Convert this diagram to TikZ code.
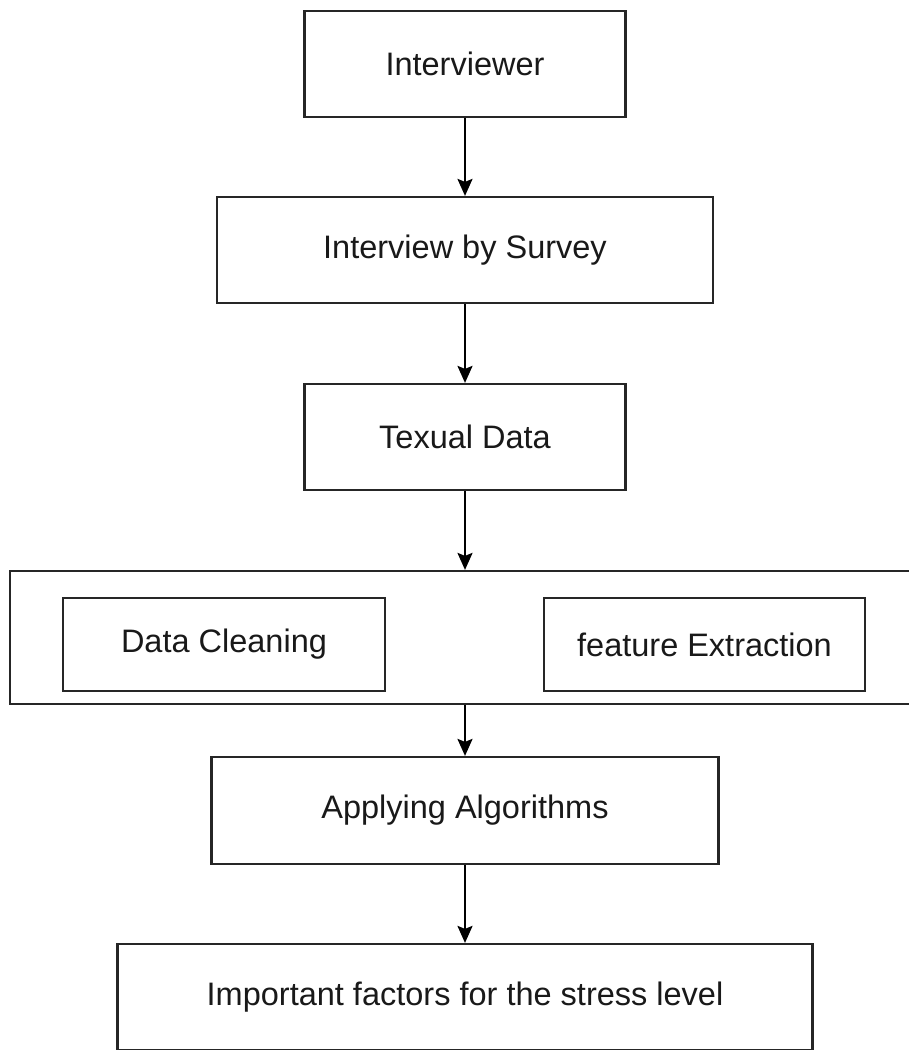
\documentclass[tikz,border=0pt]{standalone}
\usepackage{fontspec}
\setmainfont{Liberation Sans}
\usetikzlibrary{arrows.meta,positioning,calc}
\begin{document}
\begin{tikzpicture}[x=1pt,y=-1pt,
  box/.style={draw=black!85, line width=2.2pt, fill=white, inner sep=0pt,
    font=\fontsize{32.5}{38}\selectfont, text=black!90},
  arr/.style={draw=black, line width=2.2pt, -{Stealth[length=17pt,width=15pt,inset=3pt]}}]
\useasboundingbox[fill=white] (0,0) rectangle (909,1050);
% outer container (extends beyond right edge)
\node[box, minimum width=905pt, minimum height=133pt] (big) at (462.5,637.5) {};
\node[box, minimum width=321pt, minimum height=106pt] (n1) at (465,64) {Interviewer};
\node[box, minimum width=496pt, minimum height=106pt] (n2) at (465,250) {Interview by Survey};
\node[box, minimum width=321pt, minimum height=106pt] (n3) at (465,437) {Texual Data};
\node[box, minimum width=322pt, minimum height=93pt] (dc) at (224,644.5) {Data Cleaning};
\node[box, minimum width=321pt, minimum height=93pt] (fe) at (704.5,644.5) {feature Extraction};
\node[box, minimum width=507pt, minimum height=107pt] (n5) at (465,810.5) {Applying Algorithms};
\node[box, minimum width=695pt, minimum height=106pt] (n6) at (465,997) {Important factors for the stress level};
\draw[arr] (n1.south) -- (n2.north);
\draw[arr] (n2.south) -- (n3.north);
\draw[arr] (n3.south) -- (n3.south |- big.north);
\draw[arr] (n3.south |- big.south) -- (n5.north);
\draw[arr] (n5.south) -- (n6.north);
\end{tikzpicture}
\end{document}
